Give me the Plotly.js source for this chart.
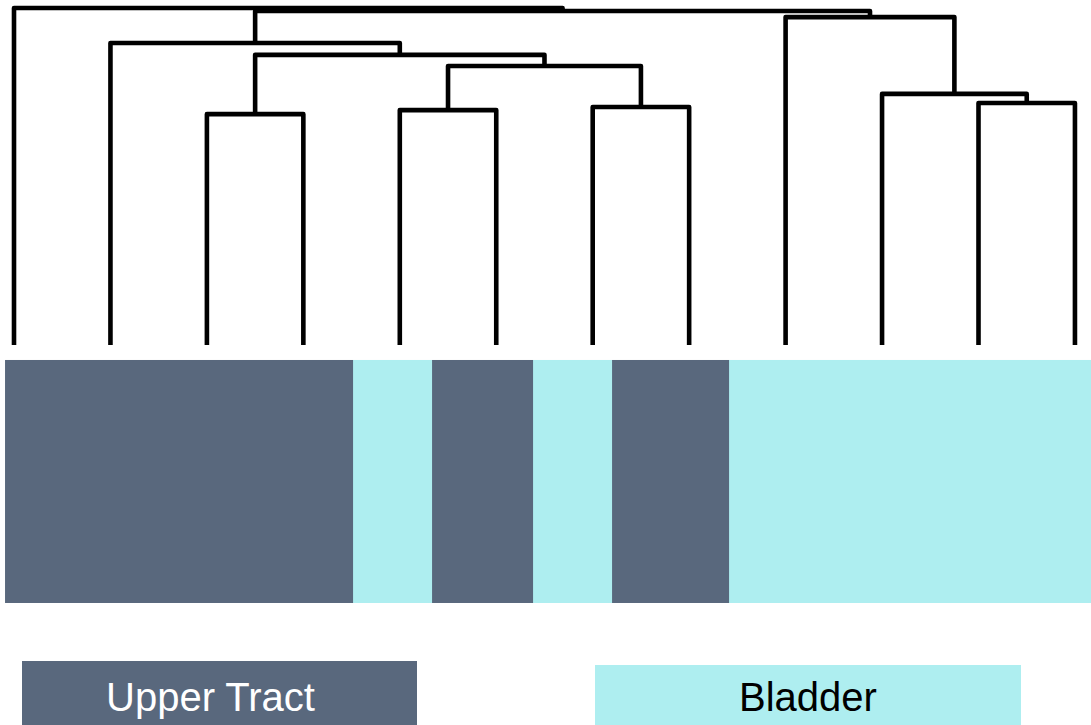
<!DOCTYPE html>
<html>
<head>
<meta charset="utf-8">
<script src="https://cdn.plot.ly/plotly-3.0.1.min.js"></script>
<style>html,body{margin:0;padding:0;background:#fff;}#chart{width:1091px;height:725px;}
.js-line{stroke-linejoin:round !important;}</style>
</head>
<body>
<div id="chart"></div>
<script>
// ---- data ----
const leafCount = 12;
// merges: node ids 0..11 are leaves, merge k creates node 12+k
const mergeLeft   = [2, 4, 6, 13, 12, 1, 10, 9, 8, 17, 0];
const mergeRight  = [3, 5, 7, 14, 15, 16, 11, 18, 19, 20, 21];
const mergeHeight = [68.5, 69.7, 70.6, 82.8, 86.1, 89.6, 71.8, 74.5, 97.3, 99.1, 100];

// sample group strip (positions in leaf units) and group codes
const stripEdges  = [-0.093, 3.515, 4.334, 5.381, 6.2, 7.413, 11.166];
const stripGroup  = [0, 1, 0, 1, 0, 1];   // 0 = Upper Tract, 1 = Bladder
const groupNames  = ['Upper Tract', 'Bladder'];
const groupColors = ['#59687d', '#aeeef0'];
const groupText   = ['#ffffff', '#000000'];

// ---- dendrogram geometry from merges ----
const nodeX = [], nodeH = [];
for (let i = 0; i < leafCount; i++) { nodeX.push(i); nodeH.push(0); }
const lx = [], ly = [];
for (let k = 0; k < mergeLeft.length; k++) {
  const a = mergeLeft[k], b = mergeRight[k], h = mergeHeight[k];
  lx.push(nodeX[a], nodeX[a], nodeX[b], nodeX[b], null);
  ly.push(nodeH[a], h, h, nodeH[b], null);
  nodeX.push((nodeX[a] + nodeX[b]) / 2);
  nodeH.push(h);
}

const dendro = {
  type: 'scatter', mode: 'lines', x: lx, y: ly,
  line: {color: '#000', width: 4.6},
  hoverinfo: 'skip', showlegend: false
};

const strip = {
  type: 'heatmap',
  x: stripEdges,
  y: [-76.56, -4.45],
  z: [stripGroup],
  zmin: 0, zmax: 1,
  colorscale: [[0, groupColors[0]], [0.5, groupColors[0]], [0.5, groupColors[1]], [1, groupColors[1]]],
  showscale: false, hoverinfo: 'skip'
};

const W = 1091, H = 725;
const px = p => p / W, py = p => 1 - p / H;

const legendBoxes = [
  {x0: 22, x1: 417, y0: 661, tx: 210},
  {x0: 595, x1: 1021, y0: 665, tx: 808}
];
const shapes = legendBoxes.map((b, i) => ({
  type: 'rect', xref: 'paper', yref: 'paper',
  x0: px(b.x0), x1: px(b.x1), y0: 0, y1: py(b.y0),
  fillcolor: groupColors[i], line: {width: 0}, layer: 'above'
}));
const annotations = legendBoxes.map((b, i) => ({
  xref: 'paper', yref: 'paper', x: px(b.tx), y: py(697),
  xanchor: 'center', yanchor: 'middle', showarrow: false,
  text: groupNames[i],
  font: {family: 'Liberation Sans, Arial, sans-serif', size: 40, color: groupText[i]}
}));

const layout = {
  width: W, height: H,
  margin: {l: 0, r: 0, t: 0, b: 0},
  paper_bgcolor: '#fff', plot_bgcolor: '#fff',
  xaxis: {range: [-0.1452, 11.1664], visible: false, fixedrange: true},
  yaxis: {range: [-112.76, 102.37], visible: false, fixedrange: true},
  shapes: shapes, annotations: annotations, showlegend: false
};

Plotly.newPlot('chart', [strip, dendro], layout, {displayModeBar: false, staticPlot: true});
</script>
</body>
</html>
